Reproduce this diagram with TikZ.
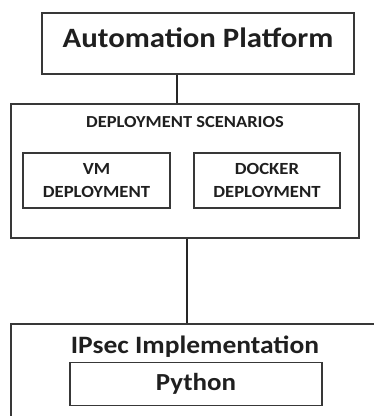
\documentclass[tikz,border=0pt]{standalone}
\usepackage{fontspec}
\setmainfont{Carlito}[FakeStretch=1.1]
\begin{document}
\begin{tikzpicture}[x=1pt,y=-1pt,
  box/.style={draw=black!78,line width=1.3pt,inner sep=0pt,rectangle},
  conn/.style={draw=black!85,line width=2pt},
  lbl/.style={inner sep=0pt,font=\bfseries,text=black!88}]
\useasboundingbox (0,0) rectangle (374,416);
\clip (0,0) rectangle (374,416);
% top box
\node[box,minimum width=312pt,minimum height=61pt] (top) at (198,43.5) {};
\node[lbl,font=\fontsize{28}{30}\selectfont\bfseries] (toptext) at (198,38) {Automation Platform};
% deployment box
\node[box,minimum width=348pt,minimum height=134pt] (deploy) at (185,171) {};
\node[lbl,font=\fontsize{16.8}{19}\selectfont\bfseries] (deptitle) at (185,122) {DEPLOYMENT SCENARIOS};
\node[box,minimum width=147pt,minimum height=55pt,align=center,font=\fontsize{17}{23}\selectfont\bfseries,text=black!88] (vm) at (96.5,180.5) {VM\\DEPLOYMENT};
\node[box,minimum width=146pt,minimum height=55pt,align=center,font=\fontsize{17}{23}\selectfont\bfseries,text=black!88] (docker) at (267,180.5) {DOCKER\\DEPLOYMENT};
% ipsec box
\node[box,minimum width=380pt,minimum height=110pt] (ipsec) at (201,379) {};
\node[lbl,font=\fontsize{25}{28}\selectfont\bfseries] (iptext) at (195,347) {IPsec Implementation};
\node[box,minimum width=252pt,minimum height=43pt,font=\fontsize{24.5}{27}\selectfont\bfseries,text=black!88] (python) at (196,384) {Python};
% connectors
\draw[conn] ([xshift=-21pt]top.south) -- ([xshift=-21pt]top.south |- deploy.north);
\draw[conn] ([xshift=2pt]deploy.south) -- ([xshift=2pt]deploy.south |- ipsec.north);
\end{tikzpicture}
\end{document}
